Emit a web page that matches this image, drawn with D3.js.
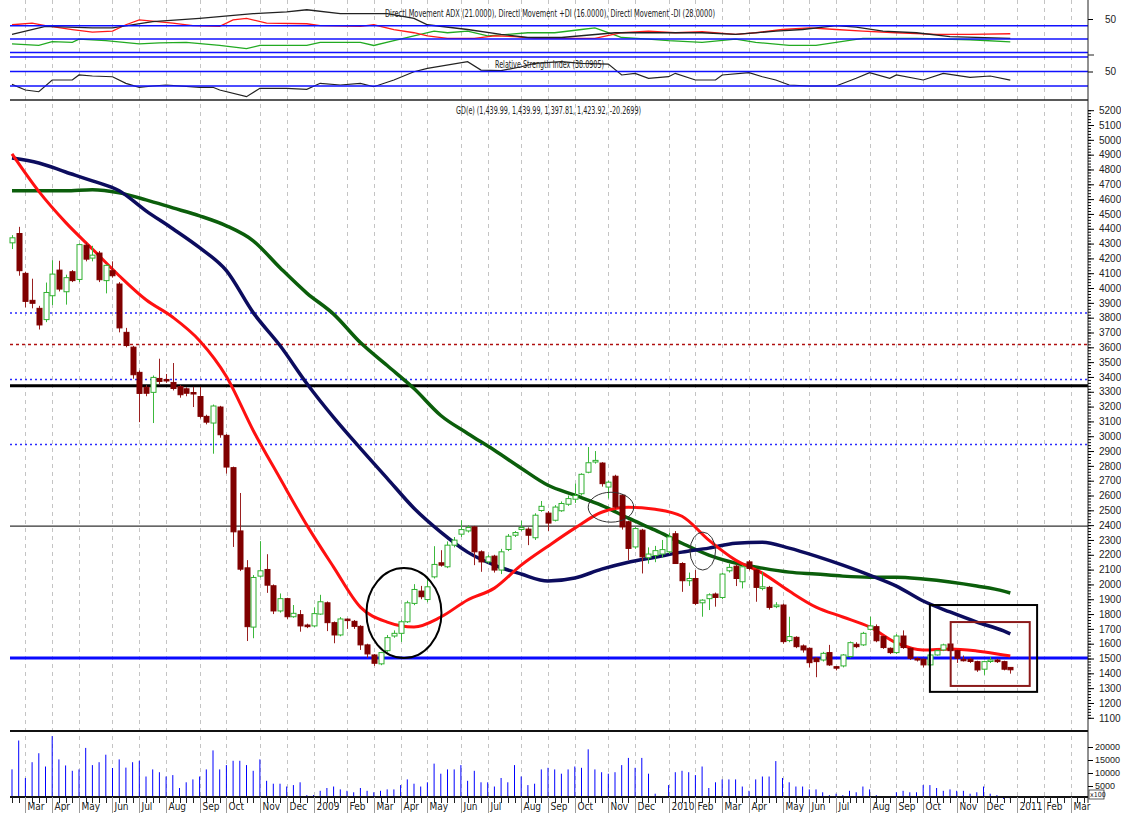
<!DOCTYPE html>
<html>
<head>
<meta charset="utf-8">
<title>GD(e) weekly</title>
<script src="https://d3js.org/d3.v7.min.js"></script>
<style>
  body{ margin:0; background:#fff; }
  svg{ display:block; font-family:'Liberation Sans Narrow','DejaVu Sans Condensed','Liberation Sans',Arial,sans-serif; }
  text{ fill:#222; }
</style>
</head>
<body>
<svg></svg>
<script>
//begin: data
var firstBar = new Date(2008, 1, 22);   // weekly bars, dated Friday

var openP = [4305,4368,4099,3917,3863,3787,3948,4121,3975,4110, 4058,4289,4202,4236,4050,4117,4027,3701,3601,3431,
  3330,3296,3390,3383,3363,3335,3320,3295,3268,3134, 3089,3197,3006,2788,2361,2112,1712,2056,2101,1991,
  1821,1904,1782,1796,1726,1720,1800,1876,1742,1659, 1766,1751,1717,1592,1524,1464,1553,1652,1670,1748,
  1872,1955,1898,2051,2146,2119,2265,2339,2361,2388, 2220,2152,2191,2097,2236,2332,2371,2373,2315,2499,
  2481,2433,2497,2541,2575,2612,2757,2826,2819,2657, 2730,2602,2423,2253,2366,2180,2195,2205,2220,2342,
  2141,2025,2040,1876,1904,1935,1912,2092,2123,2018, 2152,2097,1973,1980,1850,1861,1621,1643,1585,1569,
  1502,1490,1540,1445,1450,1513,1596,1592,1697,1715, 1648,1569,1540,1652,1569,1500,1495,1457,1524,1558,
  1598,1553,1495,1495,1479,1428,1480,1490,1479,1440];
var highP = [4357,4413,4110,4063,3880,4037,4188,4184,4090,4121, 4300,4307,4285,4250,4160,4180,4040,3731,3610,3444,
  3345,3410,3523,3420,3494,3345,3330,3333,3333,3145, 3214,3205,3015,2795,2617,2164,2063,2292,2204,2000,
  1939,1910,1861,1827,1735,1845,1930,1885,1750,1780, 1770,1760,1725,1600,1530,1545,1659,1690,1760,1890,
  2002,1990,2051,2258,2231,2290,2320,2433,2400,2395, 2230,2200,2200,2240,2340,2360,2430,2385,2480,2563,
  2495,2535,2560,2600,2680,2750,2927,2900,2825,2700, 2740,2610,2430,2390,2375,2250,2260,2300,2350,2360,
  2150,2080,2097,1900,1940,1945,2080,2140,2135,2130, 2165,2105,2085,1990,1880,1870,1782,1650,1595,1575,
  1510,1545,1592,1450,1530,1615,1610,1680,1782,1730, 1655,1575,1665,1690,1575,1510,1500,1530,1560,1600,
  1610,1560,1520,1505,1485,1485,1510,1500,1485,1440];
var lowP = [4263,4083,3870,3863,3720,3770,3885,3977,3888,4040, 4040,4180,4180,4040,3964,4070,3701,3600,3388,3095,
  3270,3089,3350,3360,3309,3260,3270,3197,3120,3080, 2882,2990,2748,2253,2090,1618,1637,2047,1943,1800,
  1810,1767,1775,1681,1705,1712,1795,1685,1603,1650, 1700,1700,1558,1505,1450,1455,1545,1640,1612,1740,
  1860,1900,1880,2040,2120,2110,2250,2320,2350,2130, 2085,2140,2080,2070,2225,2320,2360,2265,2300,2490,
  2361,2425,2490,2530,2550,2600,2750,2815,2660,2580, 2510,2370,2164,2240,2074,2140,2150,2180,2205,2141,
  1950,1990,1860,1782,1827,1850,1900,2080,1989,1973, 2095,1883,1960,1830,1840,1600,1610,1570,1540,1440,
  1374,1480,1450,1420,1440,1505,1570,1585,1690,1610, 1565,1530,1530,1565,1490,1480,1440,1450,1520,1550,
  1480,1470,1480,1470,1410,1390,1470,1470,1420,1398];
var closeP = [4339,4117,3910,3897,3751,3970,4094,3993,4070,4050, 4293,4195,4222,4056,4153,4083,3731,3612,3415,3289,
  3290,3397,3370,3378,3322,3280,3290,3288,3134,3095, 3204,3010,2792,2355,2103,1715,2047,2092,1995,1821,
  1904,1782,1805,1720,1715,1803,1883,1742,1659,1767, 1760,1717,1592,1531,1468,1540,1641,1670,1748,1876,
  1966,1917,1984,2135,2130,2265,2299,2370,2384,2220, 2152,2186,2097,2220,2325,2350,2384,2332,2467,2527,
  2414,2522,2546,2579,2600,2743,2821,2837,2680,2690, 2523,2388,2243,2377,2186,2205,2228,2235,2321,2141,
  2025,2040,1872,1894,1930,1912,2070,2115,2040,2119, 2108,1980,1984,1845,1861,1614,1648,1580,1558,1472,
  1479,1535,1457,1441,1524,1607,1580,1670,1720,1620, 1574,1540,1652,1574,1502,1495,1457,1524,1553,1592,
  1553,1502,1490,1480,1423,1479,1490,1479,1428,1424];
var volume = [11400,22500,8080,14150,17600,12500,24200,15230,12900,10850, 11380,19650,13040,14150,17040,11920,15230,12070,14150,14700,
  8650,11380,10300,8650,9190,4230,6420,7540,8650,11380, 18690,11380,13040,14700,14700,13040,10850,15230,7000,5880,
  5880,4800,5350,6420,1500,1500,3150,4230,4800,3690, 3150,2580,4230,3150,2580,3150,3690,3690,5350,7540,
  5880,4800,6420,13600,9730,11380,11380,13040,7000,10850, 6420,6420,4800,8080,6420,13040,8650,5350,5880,11380,
  12000,11380,9730,11380,12500,12000,19100,11380,10300,9730, 10300,13040,15800,12000,15800,9730,2040,1000,5350,10300,
  10850,10300,9190,12500,4230,6420,7540,7540,7540,4800, 3150,7540,8650,8650,14580,8080,6420,4800,4800,3690,
  3690,2580,1480,2040,1480,3150,2580,4800,3690,1480, 500,920,2580,3150,2580,2580,5350,5350,4230,3150,
  3690,3150,3150,2040,2580,4800,2040,1480,0,0];

// moving averages every 4 weeks
var maWeeks = [0,4,8,12,16,20,24,28,32,36,40,44,48,52,56,60,64,68,72,76,80,84,88,92,96,100,104,108,112,116,120,124,128,132,136,140,144,148,149];
var maFast = [4905,4652,4443,4263,4083,3921,3803,3645,3403,3039,2716,2400,2117,1847,1746,1713,1780,1895,1975,2130,
  2258,2380,2487,2521,2507,2460,2299,2164,2076,1955,1847,1780,1713,1605,1558,1565,1551,1524,1517];
var maMid = [4878,4844,4783,4723,4656,4521,4400,4272,4117,3834,3612,3356,3127,2918,2716,2514,2353,2218,2130,2070,
  2023,2043,2103,2150,2184,2218,2245,2278,2285,2245,2191,2130,2063,1989,1888,1814,1746,1686,1666];
var maSlow = [4656,4656,4656,4663,4642,4595,4541,4487,4420,4319,4137,3966,3824,3632,3477,3322,3140,3019,2905,2784,
  2669,2602,2534,2447,2366,2278,2198,2144,2110,2083,2070,2056,2049,2049,2036,2016,1989,1955,1942];

// horizontal levels on the price panel
var levels = [3832, 3619, 3383, 3340, 2945, 2393, 1504];

// directional movement
var adxWeeks = [0,5,12,15,21,28,36,41,44,49,56,60,62,68,73,77,82,90,103,108,114,118,123,126,130,135,140,149];
var adxVals = [27,39,36.7,36.7,46,51,58,60.5,63.8,58,58,51,41.4,34.3,27,22.4,22.4,29.5,29.5,27,31.9,34.3,40,38,31.9,29.5,23.8,21];
var mdiWeeks = [0,3,5,9,12,15,17,19,24,27,31,33,35,38,44,46,52,54,57,60,62,65,69,72,75,78,81,87,91,95,99,103,108,111,115,119,123,127,132,138,143,149];
var mdiVals = [41.4,43.8,40,34.3,30.5,31.9,41.4,48.6,43.8,40,39,48.6,51,43.8,42.9,40,39,41.4,34.3,29.5,
  24.8,21,21,24.8,23.8,21,21,21,29.5,31.9,29.5,31,27,29.5,34.3,36.7,34.3,31.9,29.5,27,27,28];
var pdiWeeks = [0,4,6,9,10,14,19,22,26,31,35,37,44,46,52,54,57,60,63,65,68,71,74,77,81,85,87,89,91,95,98,103,108,111,116,120,123,127,135,143,149];
var pdiVals = [12.9,10.5,16.2,15.2,20,17.6,12.9,14.3,15.2,10.5,5.7,10.5,10.5,15.2,15.2,10.5,17.6,24.8,31.9,29.5,
  31.9,24.8,27,29.5,29.5,34.3,36.7,29.5,22.4,20,17.6,15.2,20,15.2,10.5,10.5,15.2,21,21,19,16];
var adxLevels = [40, 20, 0];

// relative strength index
var rsiWeeks = [0,2,4,6,9,10,12,15,17,19,21,23,28,30,31,35,37,41,44,46,49,52,54,57,60,62,68,70,73,76,78,82,85,89,91,93,95,98,99,102,105,106,110,112,114,116,119,123,126,128,131,132,136,139,143,146,149];
var rsiVals = [32.3,24.5,22.1,38.3,38.3,45.2,43.8,42.8,33.7,28.2,30,31.4,28.2,28.2,24.5,15.3,26.8,26.8,25.4,33.7,
  31.4,33.7,29,38.3,49.7,54.4,63.5,52,51.1,56.6,61.3,63.5,61.3,60.3,45.2,47.5,40.6,42.8,47.5,38.3,
  38.3,45.2,48.4,42.8,38.3,31.4,30,30,40.6,48.4,40.6,45.2,38.3,47.5,42,43.8,38.1];
var rsiLevels = [70, 50, 30];

// annotations (week index / price)
var ovalWeeks = [58.5, 89.4, 103.1];
var ovalPrices = [1807, 2521, 2225];
var ovalWeekRadius = [5.6, 3.4, 1.9];
var ovalPriceRadius = [303, 101, 128];
var boxWeeks = [[137, 153], [140.1, 151.9]];
var boxPrices = [[1861, 1275], [1746, 1315]];

var priceTicks = d3.range(1100, 5201, 100);
var volTicks = [20000, 15000, 10000, 5000];
//end: data

//begin: layout conf.
var svgWidth = 1121, svgHeight = 813,
    plotLeft = 10, plotRight = 1088,
    nSlots = 161,
    axisY = 797, volTop = 731, priceTop = 100;
//end: layout conf.

var svg = d3.select("svg").attr("width", svgWidth).attr("height", svgHeight);

var x = d3.scaleLinear().domain([0, 149]).range([12, 1010.3]);
var y = d3.scaleLinear().domain([1100, 5200]).range([717.8, 110.2]);
var yv = d3.scaleLinear().domain([0, 20000]).range([799, 747]);
var ya = d3.scaleLinear().domain([0, 50]).range([52.5, 19]);
var yr = d3.scaleLinear().domain([30, 70]).range([86, 57]);

function crisp(v){ return Math.round(v) + 0.5; }

function barDate(i){
  var d = d3.timeDay.offset(firstBar, 7*i);
  if (d.getMonth() == 0 && d.getDate() == 1) d = d3.timeDay.offset(d, -1);  // holiday week
  return d;
}
var monthStarts = d3.range(1, nSlots).filter(function(i){ return barDate(i).getMonth() != barDate(i-1).getMonth(); });
var monthLabel = function(d){ return d.getMonth() == 0 ? d3.timeFormat("%Y")(d) : d3.timeFormat("%b")(d); };

// month grid
svg.append("g").selectAll("line").data(monthStarts).join("line")
  .attr("x1", function(i){ return crisp(x(i)); }).attr("x2", function(i){ return crisp(x(i)); })
  .attr("y1", 0).attr("y2", axisY)
  .attr("stroke", "#c4c4c4").attr("stroke-dasharray", "4,4");

// ---------- top panels ----------
var indPanel = svg.append("g");
function indLine(weeks, vals, scale){
  return d3.line().x(function(d, k){ return x(weeks[k]); }).y(function(d){ return scale(d); })(vals);
}
indPanel.append("path").attr("d", indLine(pdiWeeks, pdiVals, ya)).attr("fill", "none").attr("stroke", "#22aa22").attr("stroke-width", 1.3);
indPanel.append("path").attr("d", indLine(mdiWeeks, mdiVals, ya)).attr("fill", "none").attr("stroke", "#ff1a1a").attr("stroke-width", 1.3);
indPanel.append("path").attr("d", indLine(adxWeeks, adxVals, ya)).attr("fill", "none").attr("stroke", "#222").attr("stroke-width", 1.3);
indPanel.append("path").attr("d", indLine(rsiWeeks, rsiVals, yr)).attr("fill", "none").attr("stroke", "#222").attr("stroke-width", 1.2);

indPanel.selectAll(".adxl").data(adxLevels).join("line")
  .attr("x1", plotLeft).attr("x2", plotRight)
  .attr("y1", function(d){ return ya(d); }).attr("y2", function(d){ return ya(d); })
  .attr("stroke", "#1010ff").attr("stroke-width", 1.5);
indPanel.selectAll(".rsil").data(rsiLevels).join("line")
  .attr("x1", plotLeft).attr("x2", plotRight)
  .attr("y1", function(d){ return yr(d); }).attr("y2", function(d){ return yr(d); })
  .attr("stroke", "#1010ff").attr("stroke-width", 1.5);

indPanel.append("text").attr("x", 385).attr("y", 17).attr("font-size", 10.5)
  .attr("textLength", 330).attr("lengthAdjust", "spacingAndGlyphs")
  .text("Directl Movement ADX (21.0000), Directl Movement +DI (16.0000), Directl Movement -DI (28.0000)");
indPanel.append("text").attr("x", 495).attr("y", 68).attr("font-size", 10.5)
  .attr("textLength", 109).attr("lengthAdjust", "spacingAndGlyphs")
  .text("Relative Strength Index (38.0905)");

// right axes for indicators
indPanel.append("g").attr("transform", "translate(" + plotRight + ",0)")
  .call(d3.axisRight(ya).tickValues([50]).tickSize(5).tickPadding(12))
  .call(function(g){ g.select(".domain").remove(); g.selectAll("text").attr("font-size", 10).attr("font-family", null); });
indPanel.append("g").attr("transform", "translate(" + plotRight + ",0)")
  .call(d3.axisRight(yr).tickValues([50]).tickSize(5).tickPadding(12))
  .call(function(g){ g.select(".domain").remove(); g.selectAll("text").attr("font-size", 10).attr("font-family", null); });
indPanel.append("line").attr("x1", plotRight).attr("x2", plotRight + 6).attr("y1", 55).attr("y2", 55).attr("stroke", "#222");

// panel separators
svg.append("line").attr("x1", plotLeft).attr("x2", plotRight).attr("y1", priceTop).attr("y2", priceTop)
  .attr("stroke", "#222").attr("stroke-width", 1.5);
svg.append("text").attr("x", 456).attr("y", 114).attr("font-size", 10.5)
  .attr("textLength", 185).attr("lengthAdjust", "spacingAndGlyphs")
  .text("GD(e) (1,439.99, 1,439.99, 1,397.81, 1,423.92, -20.2699)");

// ---------- price panel ----------
var lvlStroke = ["#2a2aff", "#b01010", "#2a2aff", "#000", "#2a2aff", "#333", "#0a0aff"];
var lvlWidth = [1.5, 1.5, 1.5, 3, 1.5, 1.2, 3];
var lvlDash = ["2,3", "3,3", "2,3", null, "2,3", null, null];
svg.append("g").selectAll("line").data(levels).join("line")
  .attr("x1", plotLeft).attr("x2", plotRight)
  .attr("y1", function(d){ return y(d); }).attr("y2", function(d){ return y(d); })
  .attr("stroke", function(d, k){ return lvlStroke[k]; })
  .attr("stroke-width", function(d, k){ return lvlWidth[k]; })
  .attr("stroke-dasharray", function(d, k){ return lvlDash[k]; });

var maLine = d3.line().curve(d3.curveMonotoneX)
  .x(function(d, k){ return x(maWeeks[k]); }).y(function(d){ return y(d); });
svg.append("path").attr("d", maLine(maSlow)).attr("fill", "none").attr("stroke", "#0b5e0b").attr("stroke-width", 3.5);
svg.append("path").attr("d", maLine(maMid)).attr("fill", "none").attr("stroke", "#0c0c5e").attr("stroke-width", 3.5);
svg.append("path").attr("d", maLine(maFast)).attr("fill", "none").attr("stroke", "#ff1010").attr("stroke-width", 3);

// candles
var candles = svg.append("g").selectAll("g").data(d3.range(openP.length)).join("g");
candles.append("line")
  .attr("x1", function(i){ return crisp(x(i)); }).attr("x2", function(i){ return crisp(x(i)); })
  .attr("y1", function(i){ return y(highP[i]); }).attr("y2", function(i){ return y(lowP[i]); })
  .attr("stroke", function(i){ return closeP[i] >= openP[i] ? "#3cb83c" : "#9a2020"; });
candles.append("rect")
  .attr("x", function(i){ return Math.round(x(i)) - 2; })
  .attr("width", 5)
  .attr("y", function(i){ return y(Math.max(openP[i], closeP[i])); })
  .attr("height", function(i){ return Math.max(1.5, Math.abs(y(openP[i]) - y(closeP[i]))); })
  .attr("fill", function(i){ return closeP[i] >= openP[i] ? "#fff" : "#800000"; })
  .attr("stroke", function(i){ return closeP[i] >= openP[i] ? "#2fb02f" : "#800000"; })
  .attr("stroke-width", 1);

// annotations
svg.append("g").selectAll("ellipse").data(ovalWeeks).join("ellipse")
  .attr("cx", function(d){ return x(d); })
  .attr("cy", function(d, k){ return y(ovalPrices[k]); })
  .attr("rx", function(d, k){ return x(d + ovalWeekRadius[k]) - x(d); })
  .attr("ry", function(d, k){ return y(ovalPrices[k] - ovalPriceRadius[k]) - y(ovalPrices[k]); })
  .attr("fill", "none").attr("stroke", function(d, k){ return k == 0 ? "#000" : "#333"; })
  .attr("stroke-width", function(d, k){ return k == 0 ? 2 : 1; });
svg.append("g").selectAll("rect").data(boxWeeks).join("rect")
  .attr("x", function(d){ return x(d[0]); })
  .attr("width", function(d){ return x(d[1]) - x(d[0]); })
  .attr("y", function(d, k){ return y(boxPrices[k][0]); })
  .attr("height", function(d, k){ return y(boxPrices[k][1]) - y(boxPrices[k][0]); })
  .attr("fill", "none").attr("stroke", function(d, k){ return k == 0 ? "#000" : "#8b1a1a"; })
  .attr("stroke-width", 2);

// ---------- volume panel ----------
svg.append("line").attr("x1", plotLeft).attr("x2", plotRight).attr("y1", volTop).attr("y2", volTop)
  .attr("stroke", "#111").attr("stroke-width", 2);
svg.append("g").selectAll("line").data(volume).join("line")
  .attr("x1", function(d, i){ return x(i); }).attr("x2", function(d, i){ return x(i); })
  .attr("y1", axisY).attr("y2", function(d){ return yv(d); })
  .attr("stroke", "#0000ff").attr("stroke-width", 1);

// ---------- axes ----------
svg.append("line").attr("x1", plotRight).attr("x2", plotRight).attr("y1", 0).attr("y2", axisY + 6)
  .attr("stroke", "#222");
svg.append("g").attr("transform", "translate(" + plotRight + ",0)")
  .call(d3.axisRight(y).tickValues(d3.range(1100, 5220, 20)).tickSize(3).tickFormat(""))
  .call(function(g){ g.select(".domain").remove(); });
svg.append("g").attr("transform", "translate(" + plotRight + ",0)")
  .call(d3.axisRight(y).tickValues(priceTicks).tickSize(6).tickPadding(5).tickFormat(d3.format("d")))
  .call(function(g){ g.select(".domain").remove(); g.selectAll("text").attr("font-size", 10).attr("font-family", null).attr("fill", "#333"); });
svg.append("g").attr("transform", "translate(" + plotRight + ",0)")
  .call(d3.axisRight(yv).tickValues(volTicks).tickSize(5).tickPadding(2).tickFormat(d3.format("d")))
  .call(function(g){ g.select(".domain").remove(); g.selectAll("text").attr("font-size", 9).attr("font-family", null).attr("fill", "#333"); });
svg.append("rect").attr("x", plotRight + 1).attr("y", 790).attr("width", 15).attr("height", 9)
  .attr("fill", "#fff").attr("stroke", "#333").attr("stroke-width", 0.8);
svg.append("text").attr("x", plotRight + 2).attr("y", 797).attr("font-size", 7).text("x100");

// bottom time axis
svg.append("line").attr("x1", plotLeft).attr("x2", plotRight).attr("y1", axisY).attr("y2", axisY)
  .attr("stroke", "#111").attr("stroke-width", 2);
svg.append("g").selectAll("line").data(d3.range(0, nSlots)).join("line")
  .attr("x1", function(i){ return crisp(x(i)); }).attr("x2", function(i){ return crisp(x(i)); })
  .attr("y1", axisY).attr("y2", axisY + 6).attr("stroke", "#222");
var mTicks = svg.append("g").selectAll("g").data(monthStarts).join("g")
  .attr("transform", function(i){ return "translate(" + crisp(x(i)) + ",0)"; });
mTicks.append("line").attr("y1", axisY).attr("y2", 813).attr("stroke", "#999");
mTicks.append("text").attr("x", 2).attr("y", 810).attr("font-size", 10).attr("fill", "#333")
  .text(function(i){ return monthLabel(barDate(i)); });
</script>
</body>
</html>
